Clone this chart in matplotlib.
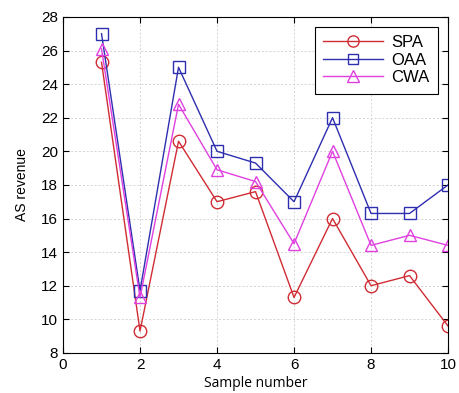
import matplotlib
matplotlib.use("Agg")
import matplotlib.pyplot as plt

samples = [1, 2, 3, 4, 5, 6, 7, 8, 9, 10]
spa = [25.3, 9.3, 20.6, 17.0, 17.6, 11.3, 16.0, 12.0, 12.6, 9.6]
oaa = [27.0, 11.7, 25.0, 20.0, 19.3, 17.0, 22.0, 16.3, 16.3, 18.0]
cwa = [26.1, 11.3, 22.8, 18.9, 18.2, 14.5, 20.0, 14.4, 15.0, 14.4]

plt.rcParams["font.family"] = ["Liberation Sans", "DejaVu Sans"]

fig = plt.figure(figsize=(4.6, 3.93), dpi=100)
ax = fig.add_axes([0.137, 0.102, 0.837, 0.855])

ax.plot(samples, spa, color="#d02c34", marker="o", markersize=9,
        markerfacecolor="none", linewidth=1, label="SPA")
ax.plot(samples, oaa, color="#2e2eb0", marker="s", markersize=8,
        markerfacecolor="none", linewidth=1, label="OAA")
ax.plot(samples, cwa, color="#e040e0", marker="^", markersize=9,
        markerfacecolor="none", linewidth=1, label="CWA")

ax.set_xlim(0, 10)
ax.set_ylim(8, 28)
ax.set_xticks(range(0, 11, 2))
ax.set_yticks(range(8, 29, 2))
ax.tick_params(direction="in", labelsize=11, length=4, top=True, right=True)
ax.grid(True, color="#d4d4d4", linestyle=(0, (2, 2)), linewidth=0.7)
ax.set_xlabel("Sample number", fontsize=10, labelpad=3, family="Open Sans")
ax.set_ylabel("AS revenue", fontsize=10, labelpad=9)

leg = ax.legend(loc="upper right", fontsize=12, fancybox=False,
                edgecolor="black", framealpha=1, handlelength=3.6,
                borderaxespad=0.6, labelspacing=0.15, markerscale=0.9,
                borderpad=0.5, handletextpad=0.5)
leg.get_frame().set_linewidth(0.8)

plt.savefig("out.png", dpi=100)
plt.close()
